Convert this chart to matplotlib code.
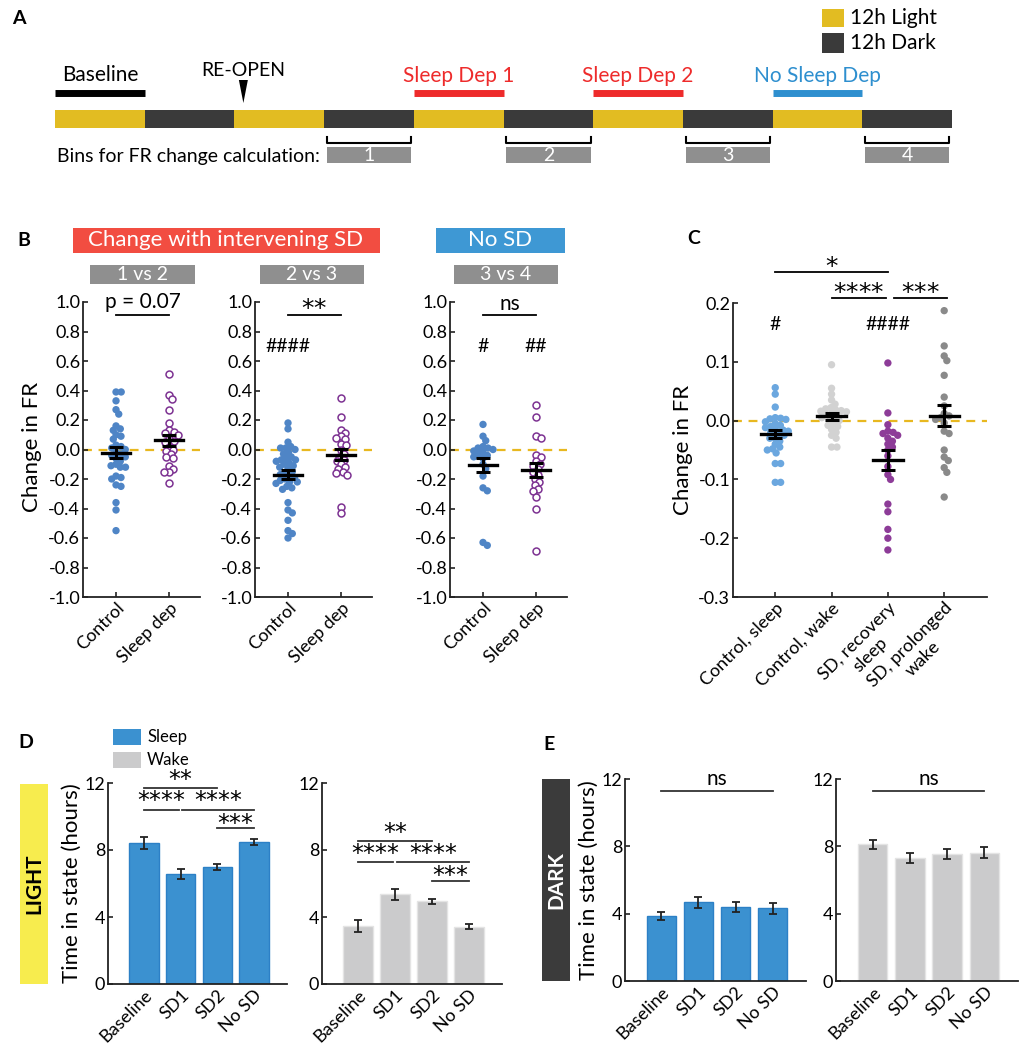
import numpy as np
import matplotlib
matplotlib.use('Agg')
import matplotlib.pyplot as plt
from matplotlib.patches import Rectangle, Polygon

plt.rcParams['font.family'] = ['Lato', 'DejaVu Sans']

W, H = 1030, 1050

# ---------------- data ----------------
phases = ['Light', 'Dark'] * 5
baseline_span = (0, 1)
reopen_at = 2.1
sd_spans = [(4, 5, 'Sleep Dep 1'), (6, 7, 'Sleep Dep 2')]
nosd_span = (8, 9, 'No Sleep Dep')
bin_segments = [3, 5, 7, 9]
bin_labels = ['1', '2', '3', '4']

b_groups = ['Control', 'Sleep dep']
b_titles = ['1 vs 2', '2 vs 3', '3 vs 4']
b12_control = [0.39, 0.39, 0.33, 0.27, 0.24, 0.16, 0.14, 0.13, 0.10, 0.09, 0.07, 0.03, 0.02, 0.01, 0.0,
               -0.02, -0.03, -0.04, -0.05, -0.06, -0.08, -0.10, -0.11, -0.12, -0.12, -0.18, -0.19, -0.20,
               -0.24, -0.25, -0.36, -0.41, -0.55]
b12_sleepdep = [0.51, 0.37, 0.34, 0.27, 0.18, 0.13, 0.12, 0.11, 0.10, 0.07, 0.06, 0.05, 0.02, 0.0, -0.01,
                -0.03, -0.05, -0.06, -0.11, -0.13, -0.15, -0.15, -0.23]
b23_control = [0.18, 0.14, 0.05, 0.02, 0.01, 0.01, 0.0, -0.02, -0.03, -0.05, -0.06, -0.07, -0.07, -0.08,
               -0.09, -0.10, -0.11, -0.12, -0.13, -0.15, -0.16, -0.17, -0.18, -0.19, -0.20, -0.21, -0.22,
               -0.22, -0.23, -0.25, -0.26, -0.27, -0.36, -0.41, -0.43, -0.48, -0.55, -0.57, -0.60]
b23_sleepdep = [0.35, 0.22, 0.13, 0.11, 0.09, 0.08, 0.07, 0.04, 0.03, 0.0, -0.03, -0.05, -0.07, -0.08,
                -0.10, -0.12, -0.13, -0.15, -0.16, -0.17, -0.39, -0.43]
b34_control = [0.17, 0.09, 0.06, 0.02, 0.01, 0.01, 0.0, -0.01, -0.02, -0.03, -0.04, -0.05, -0.06, -0.10,
               -0.13, -0.18, -0.26, -0.28, -0.63, -0.65]
b34_sleepdep = [0.30, 0.22, 0.09, 0.08, -0.04, -0.05, -0.08, -0.10, -0.11, -0.13, -0.15, -0.17, -0.20,
                -0.22, -0.24, -0.27, -0.28, -0.32, -0.40, -0.69]
b_sig = ['p = 0.07', '**', 'ns']
b_hash = [('', ''), ('####', ''), ('#', '##')]

c_groups = ['Control, sleep', 'Control, wake', 'SD, recovery\nsleep', 'SD, prolonged\nwake']
c_control_sleep = [0.056, 0.045, 0.023, 0.005, 0.004, 0.003, 0.002, -0.002, -0.005, -0.008, -0.01, -0.012,
                   -0.015, -0.016, -0.018, -0.02, -0.022, -0.025, -0.03, -0.03, -0.035, -0.04, -0.045,
                   -0.048, -0.05, -0.055, -0.073, -0.073, -0.105, -0.105]
c_control_wake = [0.095, 0.055, 0.045, 0.035, 0.028, 0.022, 0.02, 0.018, 0.017, 0.016, 0.015, 0.012, 0.01,
                  0.008, 0.005, 0.003, 0.0, -0.005, -0.008, -0.01, -0.015, -0.02, -0.025, -0.03, -0.045, -0.045]
c_sd_recovery = [0.098, 0.013, -0.007, -0.018, -0.02, -0.022, -0.025, -0.03, -0.035, -0.04, -0.045, -0.05,
                 -0.06, -0.078, -0.092, -0.1, -0.142, -0.155, -0.185, -0.2, -0.22]
c_sd_prolonged = [0.187, 0.127, 0.11, 0.102, 0.077, 0.04, 0.025, 0.012, 0.008, 0.005, 0.002, -0.004, -0.018,
                  -0.022, -0.05, -0.062, -0.068, -0.08, -0.088, -0.13]

conds = ['Baseline', 'SD1', 'SD2', 'No SD']
light_sleep = [8.43, 6.58, 6.98, 8.47]
light_sleep_err = [0.36, 0.30, 0.17, 0.20]
light_wake = [3.48, 5.35, 4.93, 3.42]
light_wake_err = [0.35, 0.32, 0.15, 0.16]
dark_sleep = [3.86, 4.67, 4.41, 4.31]
dark_sleep_err = [0.25, 0.32, 0.30, 0.33]
dark_wake = [8.11, 7.30, 7.55, 7.63]
dark_wake_err = [0.24, 0.30, 0.30, 0.33]

# ---------------- style ----------------
YEL = '#E2BC22'
DARK = '#3A3A3A'
RED = '#EE2B2B'
BLUE_TXT = '#2E8FCF'
BLUE_PT = '#4F85C6'
PURPLE = '#7D3292'
C_BLUE = '#6BA7DF'
C_LGRAY = '#D2D2D2'
C_PURPLE = '#8D3C98'
C_DGRAY = '#8A8A8A'
BAR_BLUE = '#3B91D0'
BAR_GRAY = '#CBCBCC'
ZERO = '#E8B820'
SPINE = '#222222'
STAR_FONT = ['DejaVu Sans']

fig = plt.figure(figsize=(W / 100, H / 100), dpi=100)


def ax_px(l, t, r, b):
    return fig.add_axes([l / W, 1 - b / H, (r - l) / W, (b - t) / H])


def ftext(x, y, s, **kw):
    fig.text(x / W, 1 - y / H, s, **kw)


def frect(l, t, r, b, color, **kw):
    fig.patches.append(Rectangle((l / W, 1 - b / H), (r - l) / W, (b - t) / H, transform=fig.transFigure,
                                 facecolor=color, edgecolor='none', figure=fig, **kw))


def style_ax(ax, fs=13):
    for s in ['top', 'right']:
        ax.spines[s].set_visible(False)
    for s in ['left', 'bottom']:
        ax.spines[s].set_color(SPINE)
        ax.spines[s].set_linewidth(1.3)
    ax.tick_params(direction='in', length=3.5, width=1.2, color=SPINE, labelsize=fs, pad=2)


def fmt1(v):
    v = round(float(v), 1)
    if v == 0:
        v = 0.0
    return '%.1f' % v


def swarm_offsets(vals, ypx, d):
    ys = np.asarray(vals, float) * ypx
    order = np.argsort(-ys)
    xs = np.zeros(len(ys))
    placed = []
    for i in order:
        y = ys[i]
        cands = [0.0]
        for (px, py) in placed:
            dy = y - py
            if abs(dy) < d:
                dx = np.sqrt(d * d - dy * dy)
                cands += [px + dx, px - dx]
        cands = sorted(cands, key=abs)
        for c in cands:
            if all((c - px) ** 2 + (y - py) ** 2 >= d * d - 1e-6 for px, py in placed):
                xs[i] = c
                break
        placed.append((xs[i], y))
    return xs


def mean_sem(v):
    v = np.asarray(v, float)
    return v.mean(), v.std(ddof=1) / np.sqrt(len(v))


def stars(ax, x, y, s, fs=18):
    # whole row as one mathtext string: its box hugs the asterisks, so it is centred on y
    n = s.count('*')
    body = '{*}' * n
    ax.text(x, y, r'$\mathregular{' + body + '}$', ha='center', va='center', fontsize=fs,
            family=STAR_FONT)


# ---------------- Panel A ----------------
ftext(12, 19, 'A', fontsize=14, fontweight='bold', va='center', ha='left')
axA = ax_px(55, 0, 952, 180)
axA.set_xlim(0, 10)
axA.set_ylim(180, 0)
axA.axis('off')
seg_colors = [YEL if p == 'Light' else DARK for p in phases]
axA.bar(np.arange(len(phases)) + 0.5, 18, bottom=110, width=1.0, color=seg_colors, edgecolor='none')
axA.plot(baseline_span, [93, 93], color='black', lw=5, solid_capstyle='butt')
axA.text(np.mean(baseline_span), 75, 'Baseline', ha='center', va='center', fontsize=15)
axA.text(reopen_at, 71, 'RE-OPEN', ha='center', va='center', fontsize=14)
axA.add_patch(Polygon([[reopen_at - 0.05, 80], [reopen_at + 0.05, 80], [reopen_at, 103]], closed=True,
                      facecolor='black', edgecolor='none'))
for a, b, lab in sd_spans:
    axA.plot([a, b], [93, 93], color=RED, lw=5, solid_capstyle='butt')
    axA.text((a + b) / 2, 76, lab, ha='center', va='center', fontsize=15, color=RED)
a, b, lab = nosd_span
axA.plot([a, b], [93, 93], color=BLUE_TXT, lw=5, solid_capstyle='butt')
axA.text((a + b) / 2, 76, lab, ha='center', va='center', fontsize=15, color=BLUE_TXT)
for seg, lab in zip(bin_segments, bin_labels):
    x0, x1 = seg + 0.03, seg + 0.97
    axA.plot([x0, x0, x1, x1], [137, 143, 143, 137], color='black', lw=1.5)
    axA.add_patch(Rectangle((x0, 147), x1 - x0, 16, facecolor='#8F8F8F', edgecolor='none'))
    axA.text(seg + 0.5, 155.5, lab, ha='center', va='center', fontsize=14, color='white')
axA.text(0.02, 156, 'Bins for FR change calculation:', ha='left', va='center', fontsize=14)
frect(822, 9, 844, 27, YEL)
frect(822, 33, 844, 53, DARK)
ftext(850, 18, '12h Light', fontsize=15, va='center', ha='left')
ftext(850, 43, '12h Dark', fontsize=15, va='center', ha='left')

# ---------------- Panel B ----------------
ftext(17, 240, 'B', fontsize=14, fontweight='bold', va='center', ha='left')
frect(73, 228, 380, 253, '#F24D41')
ftext(226, 240, 'Change with intervening SD', fontsize=16, color='white', ha='center', va='center')
frect(436, 228, 565, 253, '#3E98D4')
ftext(500, 240, 'No SD', fontsize=16, color='white', ha='center', va='center')
box_x = [(90, 195), (260, 364), (454, 558)]
for (l, r), t in zip(box_x, b_titles):
    frect(l, 265, r, 284, '#8F8F8F')
    ftext((l + r) / 2, 274, t, fontsize=14, color='white', ha='center', va='center')
ftext(32, 447, 'Change in FR', rotation=90, fontsize=16, ha='center', va='center')

b_data = [(b12_control, b12_sleepdep), (b23_control, b23_sleepdep), (b34_control, b34_sleepdep)]
b_left = [83, 255, 450]
bt = np.round(np.arange(-1.0, 1.01, 0.2), 1)
for k, (ctrl, sdep) in enumerate(b_data):
    ax = ax_px(b_left[k], 302, b_left[k] + 117, 597)
    ax.set_xlim(0.377, 2.585)
    ax.set_ylim(-1.0, 1.0)
    style_ax(ax)
    ax.set_yticks(bt)
    ax.set_yticklabels([fmt1(v) for v in bt])
    ax.set_xticks([1, 2])
    ax.set_xticklabels(b_groups, rotation=45, ha='right', rotation_mode='anchor', fontsize=13)
    ax.axhline(0, color=ZERO, lw=1.6, ls=(0, (4, 3)), zorder=1)
    for gi, vals in enumerate([ctrl, sdep]):
        off = swarm_offsets(vals, 147.5, 5.2) / 53.0
        x = gi + 1 + off
        if gi == 0:
            ax.scatter(x, vals, s=28, color=BLUE_PT, edgecolor='none', zorder=2, clip_on=False)
        else:
            ax.scatter(x, vals, s=25, facecolor='white', edgecolor=PURPLE, linewidth=1.1, zorder=2,
                       clip_on=False)
        m, se = mean_sem(vals)
        ax.errorbar(gi + 1, m, yerr=se, color='black', capsize=5, capthick=2.2, lw=2.2, zorder=4)
        ax.plot([gi + 1 - 0.26, gi + 1 + 0.26], [m, m], color='black', lw=2.4, zorder=4)
    ax.plot([1, 2], [0.91, 0.91], color='black', lw=1.3, clip_on=False)
    if '*' in b_sig[k]:
        stars(ax, 1.5, 0.965, b_sig[k])
    elif k == 0:
        ax.text(1.5, 0.93, b_sig[k], ha='center', va='bottom', fontsize=15)
    else:
        ax.text(1.5, 0.985, b_sig[k], ha='center', va='center', fontsize=15)
    for gi, hs in enumerate(b_hash[k]):
        if hs:
            ax.text(gi + 1, 0.70, hs, ha='center', va='center', fontsize=14)

# ---------------- Panel C ----------------
ftext(687, 238, 'C', fontsize=14, fontweight='bold', va='center', ha='left')
axC = ax_px(733, 303, 987, 597)
axC.set_xlim(0.25, 4.76)
axC.set_ylim(-0.3, 0.2)
style_ax(axC)
yt = np.round(np.arange(-0.3, 0.201, 0.1), 1)
axC.set_yticks(yt)
axC.set_yticklabels([fmt1(v) for v in yt])
axC.set_xticks([1, 2, 3, 4])
axC.set_xticklabels(c_groups, rotation=45, ha='right', rotation_mode='anchor', fontsize=13,
                    multialignment='center')
axC.set_ylabel('Change in FR', fontsize=16, labelpad=4)
axC.axhline(0, color=ZERO, lw=1.6, ls=(0, (4, 3)), zorder=1)
c_data = [c_control_sleep, c_control_wake, c_sd_recovery, c_sd_prolonged]
c_cols = [C_BLUE, C_LGRAY, C_PURPLE, C_DGRAY]
for gi, (vals, col) in enumerate(zip(c_data, c_cols)):
    off = swarm_offsets(vals, 588.0, 5.4) / 56.3
    axC.scatter(gi + 1 + off, vals, s=28, color=col, edgecolor='none', zorder=2, clip_on=False)
    m, se = mean_sem(vals)
    axC.errorbar(gi + 1, m, yerr=se, color='black', capsize=5, capthick=2.2, lw=2.2, zorder=4)
    axC.plot([gi + 1 - 0.26, gi + 1 + 0.26], [m, m], color='black', lw=2.4, zorder=4)
axC.plot([1, 3], [0.253, 0.253], color='black', lw=1.3, clip_on=False)
stars(axC, 2, 0.265, '*')
axC.plot([2, 2.97], [0.208, 0.208], color='black', lw=1.3, clip_on=False)
stars(axC, 2.48, 0.221, '****')
axC.plot([3.1, 4.05], [0.208, 0.208], color='black', lw=1.3, clip_on=False)
stars(axC, 3.57, 0.221, '***')
axC.text(1, 0.163, '#', ha='center', va='center', fontsize=14)
axC.text(3, 0.163, '####', ha='center', va='center', fontsize=14)


# ---------------- Panels D & E ----------------
def bar_panel(rect, vals, errs, color, edge):
    ax = ax_px(*rect)
    ax.set_xlim(0.02, 4.9)
    ax.set_ylim(0, 12)
    style_ax(ax)
    x = np.arange(1, len(vals) + 1)
    ax.bar(x, vals, width=0.8, color=color, edgecolor=edge, linewidth=1.0, zorder=2)
    ax.errorbar(x, vals, yerr=errs, fmt='none', ecolor='#222222', elinewidth=1.3, capsize=3, capthick=1.3,
                zorder=3)
    ax.set_yticks([0, 4, 8, 12])
    ax.set_xticks(x)
    ax.set_xticklabels(conds, rotation=45, ha='right', rotation_mode='anchor', fontsize=13)
    return ax


def bracket(ax, x0, x1, y, txt, ty, fs=15):
    ax.plot([x0, x1], [y, y], color='#333333', lw=1.3, clip_on=False)
    if '*' in txt:
        stars(ax, (x0 + x1) / 2, ty, txt, fs=17)
    else:
        ax.text((x0 + x1) / 2, ty, txt, ha='center', va='center', fontsize=fs)


ftext(18, 743, 'D', fontsize=14, fontweight='bold', va='center', ha='left')
frect(113, 729, 141, 745, BAR_BLUE)
frect(113, 752, 141, 768, BAR_GRAY)
ftext(147, 737, 'Sleep', fontsize=12, va='center', ha='left')
ftext(147, 760, 'Wake', fontsize=12, va='center', ha='left')
frect(20, 784, 48, 984, '#F7EC4E')
ftext(34, 884, 'LIGHT', rotation=90, fontsize=15, fontweight='bold', ha='center', va='center')

axD1 = bar_panel((108, 783, 287, 984), light_sleep, light_sleep_err, BAR_BLUE, '#2C80C6')
axD1.set_ylabel('Time in state (hours)', fontsize=16, labelpad=2)
bracket(axD1, 1, 3, 11.7, '**', 12.3)
bracket(axD1, 1, 1.95, 10.4, '****', 11.05)
bracket(axD1, 2.05, 4, 10.4, '****', 11.05)
bracket(axD1, 3, 4, 9.3, '***', 9.68)
axD2 = bar_panel((322, 783, 502, 984), light_wake, light_wake_err, BAR_GRAY, '#E4E4E4')
bracket(axD2, 1, 3, 8.53, '**', 9.15)
bracket(axD2, 1, 1.95, 7.26, '****', 7.9)
bracket(axD2, 2.05, 4, 7.26, '****', 7.9)
bracket(axD2, 3, 4, 6.16, '***', 6.54)

ftext(543, 745, 'E', fontsize=14, fontweight='bold', va='center', ha='left')
frect(542, 779, 570, 981, '#3B3B3B')
ftext(556, 880, 'DARK', rotation=90, fontsize=15, fontweight='bold', ha='center', va='center', color='white')
axE1 = bar_panel((625, 779, 806, 981), dark_sleep, dark_sleep_err, BAR_BLUE, '#2C80C6')
axE1.set_ylabel('Time in state (hours)', fontsize=16, labelpad=2)
bracket(axE1, 1, 4, 11.27, 'ns', 12.0)
axE2 = bar_panel((836, 779, 1018, 981), dark_wake, dark_wake_err, BAR_GRAY, '#E4E4E4')
bracket(axE2, 1, 4, 11.27, 'ns', 12.0)

fig.savefig('out.png', dpi=100, facecolor='white')
